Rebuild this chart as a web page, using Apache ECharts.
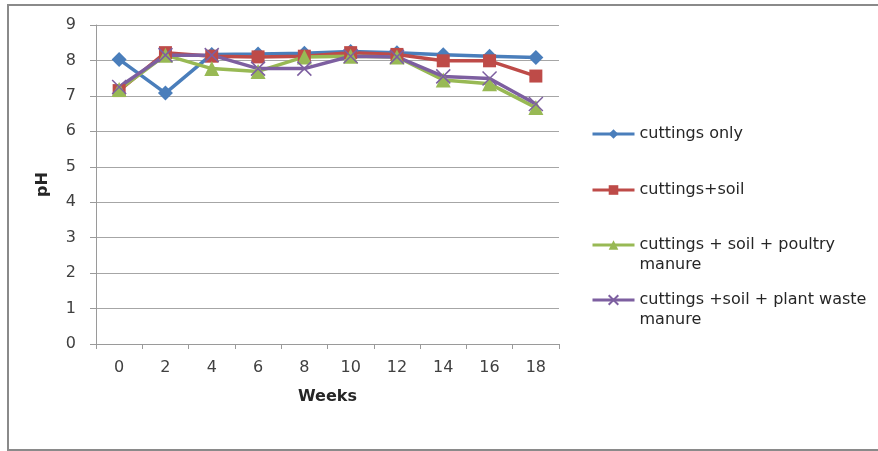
<!DOCTYPE html>
<html>
<head>
<meta charset="utf-8">
<script src="https://cdn.jsdelivr.net/npm/echarts@6/dist/echarts.min.js"></script>
<style>
  html, body { margin: 0; padding: 0; background: #fff; }
  #chart { width: 878px; height: 451px; }
</style>
</head>
<body>
<div id="chart"></div>
<script>
// Weeks of composting
const weeks = ['0', '2', '4', '6', '8', '10', '12', '14', '16', '18'];

// pH readings per treatment
const cuttingsOnly = [8.03, 7.08, 8.17, 8.18, 8.2, 8.25, 8.22, 8.16, 8.12, 8.08];
const cuttingsSoil = [7.15, 8.22, 8.12, 8.1, 8.12, 8.22, 8.17, 7.99, 7.99, 7.56];
const poultryManure = [7.18, 8.15, 7.77, 7.69, 8.1, 8.12, 8.1, 7.45, 7.34, 6.67];
const plantWasteManure = [7.25, 8.15, 8.15, 7.77, 7.77, 8.12, 8.1, 7.55, 7.49, 6.77];

const yTicks = [0, 1, 2, 3, 4, 5, 6, 7, 8, 9];

const names = [
  'cuttings only',
  'cuttings+soil',
  'cuttings + soil + poultry manure',
  'cuttings +soil + plant waste manure'
];
const labels = [
  'cuttings only',
  'cuttings+soil',
  '\ncuttings + soil + poultry\nmanure',
  '\ncuttings +soil + plant waste\nmanure'
];
const values = [cuttingsOnly, cuttingsSoil, poultryManure, plantWasteManure];
const colors = ['#4A7EBB', '#BE4B48', '#98B954', '#7D5FA0'];
const crossPath = 'path://M0,0L10,10M10,0L0,10';
const symbols = ['diamond', 'rect', 'triangle', crossPath];
const sizes = [15, 13, 15, 14];
const legendTops = [124, 180, 215, 270];

const font = 'DejaVu Sans';

const series = names.map((name, i) => ({
  name: name,
  type: 'line',
  data: values[i],
  symbol: symbols[i],
  symbolSize: sizes[i],
  showAllSymbol: true,
  lineStyle: { width: 3.5, color: colors[i] },
  itemStyle: i === 3
    ? { color: colors[i], borderColor: colors[i], borderWidth: 1.5 }
    : { color: colors[i] },
  emphasis: { disabled: true }
}));

const legends = names.map((name, i) => ({
  data: [name],
  orient: 'vertical',
  left: 591,
  top: legendTops[i],
  padding: 0,
  itemWidth: 42,
  itemHeight: 12,
  lineStyle: { width: 3 },
  formatter: () => labels[i],
  textStyle: { fontFamily: font, fontSize: 16, color: '#262626', lineHeight: 20 }
}));

const chart = echarts.init(document.getElementById('chart'), null, { renderer: 'canvas' });
chart.setOption({
  animation: false,
  backgroundColor: '#fff',
  graphic: [{
    type: 'rect',
    shape: { x: 8, y: 5, width: 900, height: 445 },
    style: { fill: 'none', stroke: '#8a8a8a', lineWidth: 2 },
    silent: true
  }],
  grid: { left: 96, right: 319, top: 25, bottom: 107 },
  legend: legends,
  xAxis: {
    type: 'category',
    data: weeks,
    boundaryGap: true,
    name: 'Weeks',
    nameLocation: 'middle',
    nameGap: 45,
    nameTextStyle: { fontFamily: font, fontSize: 16, fontWeight: 'bold', color: '#262626' },
    axisLine: { lineStyle: { color: '#9a9a9a', width: 1 } },
    axisTick: { show: true, length: 5, lineStyle: { color: '#9a9a9a' } },
    axisLabel: { fontFamily: font, fontSize: 16, color: '#404040', margin: 16 },
    splitLine: { show: false }
  },
  yAxis: {
    type: 'value',
    min: yTicks[0],
    max: yTicks[yTicks.length - 1],
    interval: 1,
    name: 'pH',
    nameLocation: 'middle',
    nameGap: 45,
    nameTextStyle: { fontFamily: font, fontSize: 16, fontWeight: 'bold', color: '#262626' },
    axisLine: { show: true, lineStyle: { color: '#9a9a9a', width: 1 } },
    axisTick: { show: true, length: 6, lineStyle: { color: '#9a9a9a' } },
    axisLabel: { fontFamily: font, fontSize: 16, color: '#404040', margin: 20 },
    splitLine: { lineStyle: { color: '#a6a6a6', width: 1 } }
  },
  series: series
});
</script>
</body>
</html>
